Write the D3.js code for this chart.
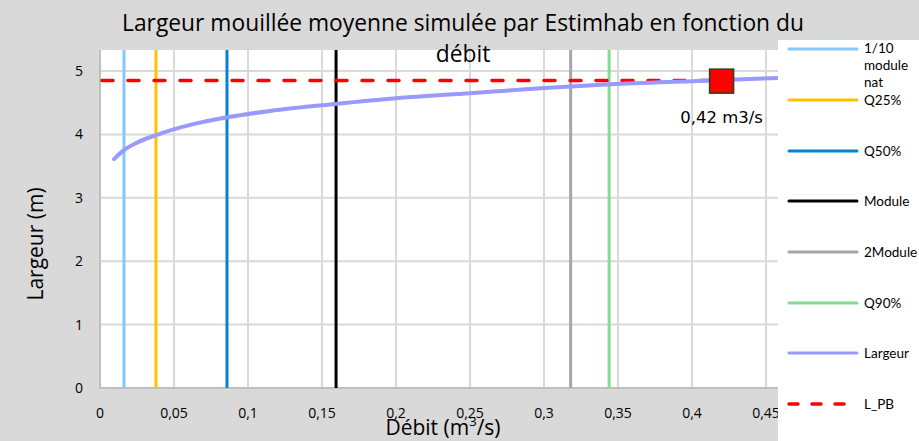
<!DOCTYPE html>
<html>
<head>
<meta charset="utf-8">
<script src="https://cdn.jsdelivr.net/npm/d3@7"></script>
<style>
  body { margin: 0; background: #d9d9d9; }
  svg { display: block; }
</style>
</head>
<body>
<div id="chart"></div>
<script>
// data
var debit = [0.0095, 0.0155, 0.025, 0.038, 0.061, 0.086, 0.115, 0.159, 0.2, 0.25, 0.3, 0.345, 0.4, 0.458, 0.5];
var largeur = [3.61, 3.74, 3.87, 3.99, 4.15, 4.27, 4.37, 4.48, 4.57, 4.65, 4.73, 4.79, 4.84, 4.89, 4.92];

var vNames = ["1/10 module nat", "Q25%", "Q50%", "Module", "2Module", "Q90%"];
var vDebits = [0.0162, 0.0378, 0.0858, 0.1595, 0.318, 0.344];
var vColors = ["#85c8fb", "#ffc000", "#0583d2", "#000000", "#a6a6a6", "#86dc8e"];

var lpbDebit = [0, 0.42];
var lpbValue = 4.85;
var pointQ = 0.42, pointL = 4.84;

var xTicks = [0, 0.05, 0.1, 0.15, 0.2, 0.25, 0.3, 0.35, 0.4, 0.45];
var yTicks = [0, 1, 2, 3, 4, 5];

var W = 919, H = 441;
var svg = d3.select("#chart").append("svg").attr("width", W).attr("height", H);
svg.append("rect").attr("width", W).attr("height", H).attr("fill", "#d9d9d9");

var x = d3.scaleLinear().domain([0, 0.5]).range([100, 840]);
var y = d3.scaleLinear().domain([0, 5]).range([388, 71]);
var plotTop = 50, plotRight = 778;

svg.append("rect").attr("x", 100).attr("y", plotTop)
  .attr("width", 740).attr("height", 388 - plotTop).attr("fill", "#fff");

svg.append("clipPath").attr("id", "clip").append("rect")
  .attr("x", 100).attr("y", plotTop).attr("width", 740).attr("height", 388 - plotTop);

// grid
var grid = svg.append("g").attr("stroke", "#d9d9d9").attr("stroke-width", 2);
grid.selectAll(".gx").data(xTicks.slice(1)).enter().append("line")
  .attr("x1", function(d){ return x(d); }).attr("x2", function(d){ return x(d); })
  .attr("y1", plotTop).attr("y2", 388);
grid.selectAll(".gy").data(yTicks.slice(1)).enter().append("line")
  .attr("x1", 100).attr("x2", 840)
  .attr("y1", function(d){ return y(d); }).attr("y2", function(d){ return y(d); });

// axes lines
svg.append("line").attr("x1", 100).attr("x2", 100).attr("y1", plotTop).attr("y2", 389)
  .attr("stroke", "#bfbfbf").attr("stroke-width", 2);
svg.append("line").attr("x1", 99).attr("x2", 840).attr("y1", 388).attr("y2", 388)
  .attr("stroke", "#bfbfbf").attr("stroke-width", 2);

var plot = svg.append("g").attr("clip-path", "url(#clip)");

// vertical reference lines
plot.selectAll(".vl").data(vDebits).enter().append("line")
  .attr("x1", function(d){ return x(d); }).attr("x2", function(d){ return x(d); })
  .attr("y1", y(0)).attr("y2", plotTop)
  .attr("stroke", function(d, i){ return vColors[i]; })
  .attr("stroke-width", 3);

// L_PB dashed
plot.append("line")
  .attr("x1", x(lpbDebit[0])).attr("x2", x(lpbDebit[1]))
  .attr("y1", y(lpbValue)).attr("y2", y(lpbValue))
  .attr("stroke", "#ff0000").attr("stroke-width", 3.5)
  .attr("stroke-dasharray", "11,15").attr("stroke-linecap", "round")
  .attr("stroke-dashoffset", -2);

// Largeur curve
var line = d3.line().curve(d3.curveMonotoneX)
  .x(function(d, i){ return x(debit[i]); })
  .y(function(d){ return y(d); });
plot.append("path").datum(largeur).attr("d", line)
  .attr("fill", "none").attr("stroke", "#9999ff").attr("stroke-width", 4)
  .attr("stroke-linecap", "round");

// marker
svg.append("rect")
  .attr("x", x(pointQ) - 12).attr("y", y(pointL) - 12)
  .attr("width", 24).attr("height", 24)
  .attr("fill", "#ff0000").attr("stroke", "#1e4620").attr("stroke-width", 1.5);
svg.append("text").attr("x", x(pointQ)).attr("y", y(pointL) + 42)
  .attr("text-anchor", "middle").attr("font-family", "DejaVu Sans, sans-serif")
  .attr("font-size", 16.5).attr("fill", "#000").text("0,42 m3/s");

// tick labels
svg.selectAll(".yt").data(yTicks).enter().append("text")
  .attr("x", 83).attr("y", function(d){ return y(d) + 5; })
  .attr("text-anchor", "end").attr("font-family", "Open Sans, sans-serif")
  .attr("font-size", 14).attr("fill", "#000").text(function(d){ return d; });
svg.selectAll(".xt").data(xTicks).enter().append("text")
  .attr("x", function(d){ return x(d); }).attr("y", 418)
  .attr("text-anchor", "middle").attr("font-family", "Open Sans, sans-serif")
  .attr("font-size", 14).attr("fill", "#000")
  .text(function(d){ return String(d).replace(".", ","); });

// axis titles
svg.append("text").attr("transform", "translate(43,244) rotate(-90)")
  .attr("text-anchor", "middle").attr("font-family", "Open Sans, sans-serif")
  .attr("font-size", 21).attr("fill", "#000").text("Largeur (m)");
var xt = svg.append("text").attr("x", 443).attr("y", 435)
  .attr("text-anchor", "middle").attr("font-family", "Open Sans, sans-serif")
  .attr("font-size", 21).attr("fill", "#000");
xt.append("tspan").text("Débit (m");
xt.append("tspan").attr("font-size", 13).attr("dy", -9).text("3");
xt.append("tspan").attr("dy", 9).text("/s)");

// title
svg.append("text").attr("x", 463).attr("y", 31)
  .attr("text-anchor", "middle").attr("font-family", "Open Sans, sans-serif")
  .attr("font-size", 22.8).attr("fill", "#000")
  .text("Largeur mouillée moyenne simulée par Estimhab en fonction du");
svg.append("text").attr("x", 463).attr("y", 62)
  .attr("text-anchor", "middle").attr("font-family", "Open Sans, sans-serif")
  .attr("font-size", 22.8).attr("fill", "#000").text("débit");

// legend
svg.append("rect").attr("x", plotRight).attr("y", 40)
  .attr("width", W - plotRight).attr("height", H - 40).attr("fill", "#fff");
var legNames = vNames.concat(["Largeur", "L_PB"]);
var legColors = vColors.concat(["#9999ff", "#ff0000"]);
var legY = [49, 100, 151, 201, 252, 303, 353, 404];
var leg = svg.selectAll(".leg").data(legNames).enter().append("g")
  .attr("transform", function(d, i){ return "translate(0," + legY[i] + ")"; });
leg.append("line").attr("x1", 789).attr("x2", 857).attr("y1", 0).attr("y2", 0)
  .attr("stroke", function(d, i){ return legColors[i]; })
  .attr("stroke-width", function(d, i){ return i == 7 ? 3.5 : 3; })
  .attr("stroke-linecap", "round")
  .attr("stroke-dasharray", function(d, i){ return i == 7 ? "9,14" : null; });
leg.each(function(d, i){
  var t = d3.select(this).append("text").attr("x", 864).attr("y", 5)
    .attr("font-family", "Lato, sans-serif").attr("font-size", 13.5).attr("fill", "#000");
  if (i == 0) {
    t.attr("y", 4);
    t.append("tspan").attr("x", 864).text("1/10");
    t.append("tspan").attr("x", 864).attr("dy", 17).text("module");
    t.append("tspan").attr("x", 864).attr("dy", 17).text("nat");
  } else {
    t.text(d);
  }
});
</script>
</body>
</html>
